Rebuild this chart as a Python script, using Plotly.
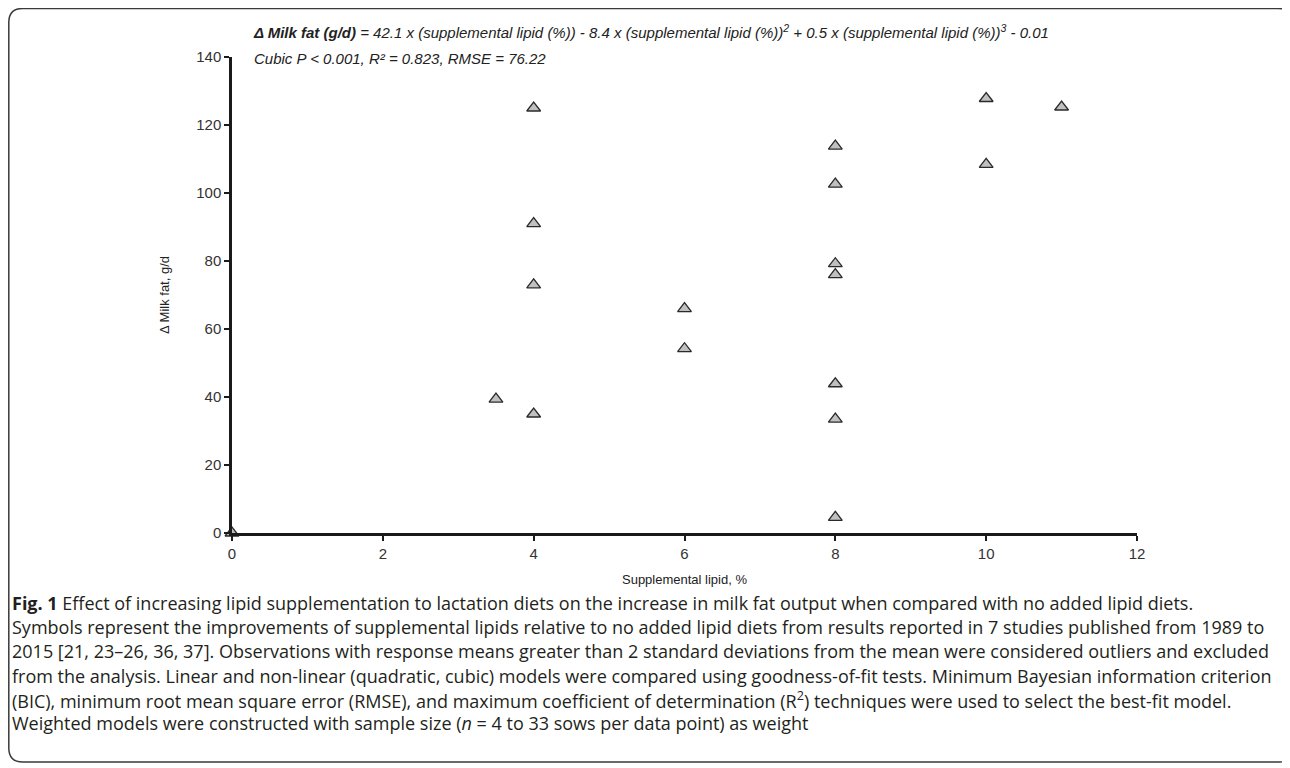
import plotly.graph_objects as go

# Data
lipid_pct = [0, 3.5, 4, 4, 4, 4, 6, 6, 8, 8, 8, 8, 8, 8, 8, 10, 10, 11]
milk_fat_delta = [0, 39.4, 125.0, 91.0, 73.0, 35.0, 66.0, 54.2,
                  113.8, 102.6, 79.2, 76.0, 43.9, 33.5, 4.6, 127.8, 108.4, 125.3]
x_ticks = [0, 2, 4, 6, 8, 10, 12]
y_ticks = [0, 20, 40, 60, 80, 100, 120, 140]

OFF = 8                      # page body margin
W, H = 1290 - OFF, 768 - OFF  # figure size
L, R, T, B = 232, 1137, 57, 533  # plot area in page pixels

def px(x):
    return (x - L) / (R - L)

def py(y):
    return (B - y) / (B - T)

fig = go.Figure()
fig.add_trace(go.Scatter(
    x=lipid_pct, y=milk_fat_delta, mode="markers",
    marker=dict(symbol="triangle-up", size=12, color="#c0c0c0",
                line=dict(color="#2a2a2a", width=1.3)),
    cliponaxis=False, showlegend=False, hoverinfo="x+y"))

axis_font = dict(family="Liberation Sans, Arial, sans-serif", size=15, color="#333333")
title_font = dict(family="Liberation Sans, Arial, sans-serif", size=13, color="#222222")

fig.update_layout(
    width=W, height=H,
    margin=dict(l=L - OFF, r=1290 - R, t=T - OFF, b=768 - B),
    paper_bgcolor="white", plot_bgcolor="white",
    font=axis_font,
    xaxis=dict(range=[0, 12], tickvals=x_ticks, showgrid=False, zeroline=False,
               showline=True, linecolor="#1a1a1a", linewidth=2.5,
               ticks="outside", ticklen=5, tickwidth=1.5, tickcolor="#1a1a1a",
               tickfont=axis_font,
               title=dict(text="Supplemental lipid, %", font=title_font, standoff=15)),
    yaxis=dict(range=[0, 140], tickvals=y_ticks, showgrid=False, zeroline=False,
               showline=True, linecolor="#1a1a1a", linewidth=2.5,
               ticks="outside", ticklen=5, tickwidth=1.5, tickcolor="#1a1a1a",
               tickfont=axis_font,
               title=dict(text="Δ Milk fat, g/d", font=title_font, standoff=24)),
)

# Rounded border around whole figure
x0, x1, y0, y1, r = 8.8, 1292, 8.5, 762, 14
path = (f"M {px(x0 + r)},{py(y0)} L {px(x1 - r)},{py(y0)} "
        f"Q {px(x1)},{py(y0)} {px(x1)},{py(y0 + r)} "
        f"L {px(x1)},{py(y1 - r)} Q {px(x1)},{py(y1)} {px(x1 - r)},{py(y1)} "
        f"L {px(x0 + r)},{py(y1)} Q {px(x0)},{py(y1)} {px(x0)},{py(y1 - r)} "
        f"L {px(x0)},{py(y0 + r)} Q {px(x0)},{py(y0)} {px(x0 + r)},{py(y0)} Z")
fig.add_shape(type="path", xref="paper", yref="paper", path=path,
              line=dict(color="#3a3a3a", width=1.5), layer="below")

eq_font = dict(family="Liberation Sans, Arial, sans-serif", size=15, color="#222222")
fig.add_annotation(
    xref="paper", yref="paper", x=px(251), y=py(32), xanchor="left", yanchor="middle",
    showarrow=False, font=eq_font,
    text="<b><i>Δ Milk fat (g/d)</i></b><i> = 42.1 x (supplemental lipid (%)) - 8.4 x "
         "(supplemental lipid (%))<sup>2</sup> + 0.5 x (supplemental lipid (%))<sup>3</sup> - 0.01</i>")
fig.add_annotation(
    xref="paper", yref="paper", x=px(252), y=py(59), xanchor="left", yanchor="middle",
    showarrow=False, font=eq_font,
    text="<i>Cubic P &lt; 0.001, R² = 0.823, RMSE = 76.22</i>")

caption_lines = [
    "<b>Fig. 1</b> Effect of increasing lipid supplementation to lactation diets on the increase in milk fat output when compared with no added lipid diets.",
    "Symbols represent the improvements of supplemental lipids relative to no added lipid diets from results reported in 7 studies published from 1989 to",
    "2015 [21, 23–26, 36, 37]. Observations with response means greater than 2 standard deviations from the mean were considered outliers and excluded",
    "from the analysis. Linear and non-linear (quadratic, cubic) models were compared using goodness-of-fit tests. Minimum Bayesian information criterion",
    "(BIC), minimum root mean square error (RMSE), and maximum coefficient of determination (R<sup>2</sup>) techniques were used to select the best-fit model.",
    "Weighted models were constructed with sample size (<i>n</i> = 4 to 33 sows per data point) as weight",
]
cap_y = [603, 627, 651, 676, 700, 723]
cap_font = dict(family="Open Sans, Lato, sans-serif", size=18, color="#231f20")
for line, yy in zip(caption_lines, cap_y):
    fig.add_annotation(xref="paper", yref="paper", x=px(10), y=py(yy),
                       xanchor="left", yanchor="middle", showarrow=False,
                       font=cap_font, text=line)

fig.write_html("out.html")
